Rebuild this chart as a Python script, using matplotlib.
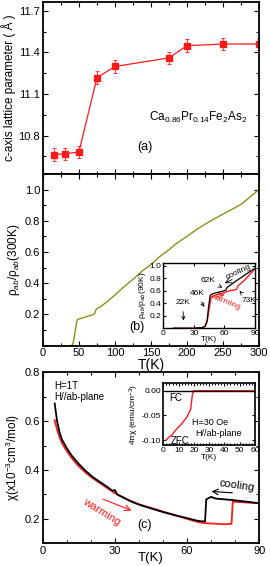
import matplotlib

matplotlib.use("Agg")
import matplotlib.pyplot as plt
from matplotlib.ticker import MultipleLocator

plt.rcParams["font.family"] = ["Liberation Sans", "DejaVu Sans"]
plt.rcParams["mathtext.fontset"] = "custom"
plt.rcParams["mathtext.rm"] = "Liberation Sans"
plt.rcParams["mathtext.it"] = "Liberation Sans:italic"

RED = "#ff1a1a"
OLIVE = "#8f8f1c"

# (a) c-axis lattice parameter
t_a = [15, 30, 50, 75, 100, 175, 200, 250, 300]
c_a = [10.662, 10.669, 10.681, 11.218, 11.299, 11.361, 11.449, 11.461, 11.461]
c_err = [0.045, 0.045, 0.045, 0.045, 0.045, 0.045, 0.045, 0.045, 0.045]

# (b) normalized in-plane resistivity
t_b = [0, 20, 38, 41, 43, 45, 47, 48, 55, 62, 70, 72, 74, 80, 90, 100, 112, 125,
       137, 150, 162, 175, 187, 200, 212, 225, 237, 250, 262, 275, 287, 300]
rho_b = [0, 0, 0, 0.005, 0.04, 0.10, 0.155, 0.168, 0.178, 0.188, 0.2, 0.207,
         0.235, 0.25, 0.285, 0.325, 0.375, 0.425, 0.475, 0.52, 0.57, 0.615, 0.66,
         0.70, 0.74, 0.778, 0.81, 0.843, 0.872, 0.905, 0.95, 1.0]

# (b) inset, cooling / warming
t_bc = [10, 30, 38, 41, 43, 44.5, 46, 47, 50, 55, 60, 61.5, 62.5, 70, 80, 90]
r_bc = [0, 0, 0.01, 0.03, 0.12, 0.35, 0.52, 0.54, 0.56, 0.58, 0.6, 0.61, 0.65,
        0.74, 0.85, 0.96]
t_bw = [10, 30, 38, 41, 43, 45, 47, 50, 55, 60, 65, 72, 73.5, 80, 90]
r_bw = [0, 0, 0.01, 0.03, 0.1, 0.3, 0.5, 0.52, 0.55, 0.57, 0.6, 0.62, 0.68,
        0.77, 0.95]

# (c) susceptibility, H = 1 T
t_cc = [5, 6, 7, 8, 10, 12, 15, 18, 21, 24, 27, 29, 30, 31, 33, 37, 41, 45, 50,
        55, 60, 64, 66, 67.5, 68, 69, 70, 72, 80, 90]
x_cc = [0.672, 0.60, 0.555, 0.525, 0.49, 0.46, 0.425, 0.395, 0.37, 0.35, 0.33,
        0.315, 0.318, 0.30, 0.29, 0.27, 0.255, 0.243, 0.228, 0.215, 0.203, 0.193,
        0.19, 0.19, 0.28, 0.285, 0.29, 0.283, 0.276, 0.264]
t_cw = [5, 6, 7, 8, 10, 12, 15, 18, 21, 24, 27, 30, 35, 40, 45, 50, 55, 60, 65,
        68, 72, 76, 78.5, 79, 80, 85, 90]
x_cw = [0.604, 0.565, 0.535, 0.51, 0.478, 0.45, 0.415, 0.388, 0.365, 0.345,
        0.325, 0.305, 0.28, 0.26, 0.245, 0.23, 0.215, 0.2, 0.186, 0.182, 0.18,
        0.178, 0.18, 0.27, 0.27, 0.267, 0.264]

# (c) inset, H = 30 Oe
t_fc = [2, 60]
m_fc = [0.0, 0.0]
t_zfc = [1.75, 3, 5.5, 8, 12, 15.3, 17.9, 19, 20, 21, 60]
m_zfc = [-0.10, -0.096, -0.09, -0.08, -0.067, -0.054, -0.038, -0.0085, 0.0, 0.0, 0.0]


def style(ax, size=8, width=1.3):
    ax.tick_params(which="both", direction="in", top=True, right=True,
                   labelsize=size, width=0.8, pad=2)
    ax.tick_params(which="major", length=3.5)
    ax.tick_params(which="minor", length=2)
    for s in ax.spines.values():
        s.set_linewidth(width)


fig = plt.figure(figsize=(2.7, 5.66), dpi=100)

# ---- panel (a)
ax_a = fig.add_axes([0.159, 0.6926, 0.8, 0.304])
ax_a.errorbar(t_a, c_a, yerr=c_err, color=RED, marker="s", ms=5, lw=0.9,
              elinewidth=0.6, capsize=1.5, capthick=0.6)
ax_a.set_xlim(0, 300)
ax_a.set_ylim(10.523, 11.765)
ax_a.set_yticks([10.8, 11.1, 11.4, 11.7])
ax_a.yaxis.set_minor_locator(MultipleLocator(0.15))
ax_a.xaxis.set_major_locator(MultipleLocator(50))
ax_a.xaxis.set_minor_locator(MultipleLocator(25))
ax_a.set_xticklabels([])
ax_a.set_ylabel("c-axis lattice parameter ( Å )", fontsize=8.5, labelpad=2)
ax_a.text(216, 10.93, "Ca$_{0.86}$Pr$_{0.14}$Fe$_2$As$_2$", fontsize=8.5,
          ha="center", va="center")
ax_a.text(142, 10.72, "(a)", fontsize=9, ha="center", va="center")
style(ax_a)

# ---- panel (b)
ax_b = fig.add_axes([0.159, 0.3892, 0.8, 0.3034])
ax_b.plot(t_b, rho_b, color=OLIVE, lw=1.0)
ax_b.set_xlim(0, 300)
ax_b.set_ylim(0, 1.1)
ax_b.set_yticks([0.2, 0.4, 0.6, 0.8, 1.0])
ax_b.yaxis.set_minor_locator(MultipleLocator(0.1))
ax_b.xaxis.set_major_locator(MultipleLocator(50))
ax_b.xaxis.set_minor_locator(MultipleLocator(25))
ax_b.set_xlabel("T(K)", fontsize=10)
ax_b.xaxis.set_label_coords(0.5, -0.072)
ax_b.set_ylabel("ρ$_{ab}$/ρ$_{ab}$(300K)", fontsize=8.5, labelpad=2)
ax_b.text(130, 0.12, "(b)", fontsize=9, ha="center", va="center")
style(ax_b)

ins_b = fig.add_axes([0.605, 0.42, 0.339, 0.116])
ins_b.plot(t_bw, r_bw, color=RED, lw=1.0)
ins_b.plot(t_bc, r_bc, color="black", lw=0.9)
ins_b.set_xlim(0, 90)
ins_b.set_ylim(0, 1.05)
ins_b.set_xticks([0, 30, 60, 90])
ins_b.set_yticks([0.2, 0.4, 0.6, 0.8, 1.0])
ins_b.set_xlabel("T(K)", fontsize=6, labelpad=-1)
ins_b.set_ylabel("ρ$_{ab}$/ρ$_{ab}$(90K)", fontsize=6, labelpad=1)
style(ins_b, size=6, width=1.0)
ins_b.tick_params(which="major", length=2, pad=1.5)
ann = dict(arrowstyle="->", color="black", lw=0.6)
ins_b.annotate("22K", xy=(20, 0.08), xytext=(19, 0.41), fontsize=6,
               ha="center", va="center", arrowprops=ann)
ins_b.annotate("46K", xy=(41.5, 0.30), xytext=(33, 0.56), fontsize=6,
               ha="center", va="center", arrowprops=ann)
ins_b.annotate("62K", xy=(60.5, 0.63), xytext=(44, 0.77), fontsize=6,
               ha="center", va="center", arrowprops=ann)
ins_b.annotate("73K", xy=(73, 0.63), xytext=(84, 0.44), fontsize=6,
               ha="center", va="center", arrowprops=ann)
ins_b.annotate("", xy=(58, 0.70), xytext=(70, 0.80), arrowprops=ann)
ins_b.text(74, 0.9, "cooling", fontsize=6, rotation=25, ha="center", va="center")
ins_b.annotate("", xy=(63, 0.55), xytext=(49, 0.49),
               arrowprops=dict(arrowstyle="->", color=RED, lw=0.6))
ins_b.text(61, 0.42, "warming", fontsize=6, color=RED, rotation=-22,
           ha="center", va="center")

# ---- panel (c)
ax_c = fig.add_axes([0.158, 0.0401, 0.802, 0.3021])
ax_c.plot(t_cw, x_cw, color=RED, lw=1.3)
ax_c.plot(t_cc, x_cc, color="black", lw=1.3)
ax_c.set_xlim(0, 90)
ax_c.set_ylim(0.1, 0.8)
ax_c.set_yticks([0.2, 0.4, 0.6, 0.8])
ax_c.yaxis.set_minor_locator(MultipleLocator(0.1))
ax_c.set_xticks([0, 30, 60, 90])
ax_c.xaxis.set_minor_locator(MultipleLocator(10))
ax_c.set_xlabel("T(K)", fontsize=9.5)
ax_c.xaxis.set_label_coords(0.5, -0.048)
ax_c.set_ylabel("χ(x10$^{-3}$cm$^3$/mol)", fontsize=8.5, labelpad=2)
ax_c.text(5, 0.745, "H=1T", fontsize=7, va="center")
ax_c.text(5, 0.70, "H//ab-plane", fontsize=7, va="center")
ax_c.text(42.5, 0.176, "(c)", fontsize=9, ha="center", va="center")
ax_c.text(80.5, 0.335, "cooling", fontsize=8, rotation=-8, ha="center", va="center")
ax_c.annotate("", xy=(69, 0.313), xytext=(80, 0.306),
              arrowprops=dict(arrowstyle="->", color="black", lw=0.8))
ax_c.text(24.5, 0.23, "warming", fontsize=8, color=RED, rotation=-32,
          ha="center", va="center")
ax_c.annotate("", xy=(38, 0.23), xytext=(24, 0.285),
              arrowprops=dict(arrowstyle="->", color=RED, lw=0.8))
style(ax_c)

ins_c = fig.add_axes([0.605, 0.2138, 0.339, 0.109])
ins_c.plot(t_zfc, m_zfc, color=RED, lw=1.0)
ins_c.plot(t_fc, m_fc, color="black", lw=1.0)
ins_c.set_xlim(0, 60)
ins_c.set_ylim(-0.11, 0.015)
ins_c.set_yticks([-0.10, -0.05, 0.0])
ins_c.set_yticklabels(["-0.10", "-0.05", "0.00"])
ins_c.set_xticks([0, 10, 20, 30, 40, 50, 60])
ins_c.xaxis.set_minor_locator(MultipleLocator(2))
ins_c.set_xlabel("T(K)", fontsize=6, labelpad=0)
ins_c.set_ylabel("4πχ (emu/cm$^{-3}$)", fontsize=6, labelpad=1)
ins_c.text(4, -0.014, "FC", fontsize=7, va="center")
ins_c.text(5, -0.102, "ZFC", fontsize=7, va="center")
ins_c.text(30.5, -0.064, "H=30 Oe", fontsize=6.5, ha="center", va="center")
ins_c.text(36, -0.087, "H//ab-plane", fontsize=6.5, ha="center", va="center")
style(ins_c, size=6, width=1.2)
ins_c.tick_params(which="major", length=2, pad=1.5)
ins_c.tick_params(which="minor", length=1.5)

fig.savefig("out.png", dpi=100)
